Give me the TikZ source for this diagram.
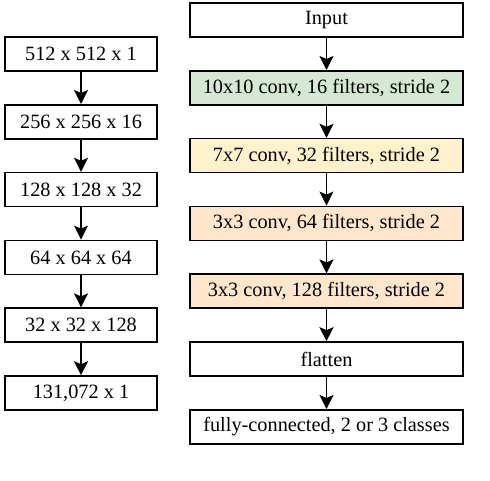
\documentclass[tikz,border=0pt]{standalone}
\usepackage{fontspec}
\setmainfont{Liberation Serif}
\usetikzlibrary{arrows.meta}
\definecolor{cgreen}{HTML}{D5E8D4}
\definecolor{cyellow}{HTML}{FFF2CC}
\definecolor{corange}{HTML}{FFE6CC}
\begin{document}
\begin{tikzpicture}[x=1pt,y=-1pt,
  box/.style={draw=black, line width=1.6pt, fill=white, rectangle, minimum height=34pt, inner sep=0pt, font=\fontsize{20.3}{24}\selectfont},
  lbox/.style={box, minimum width=152pt},
  rbox/.style={box, minimum width=273pt},
  conn/.style={line width=1.6pt, -{Stealth[length=14pt,width=14pt,inset=3pt]}}]
\useasboundingbox (0,0) rectangle (490,480);
% left column
\node[lbox] (l1) at (81,54) {512 x 512 x 1};
\node[lbox] (l2) at (81,121.8) {256 x 256 x 16};
\node[lbox] (l3) at (81,189.6) {128 x 128 x 32};
\node[lbox] (l4) at (81,257.4) {64 x 64 x 64};
\node[lbox] (l5) at (81,325.2) {32 x 32 x 128};
\node[lbox] (l6) at (81,393) {131,072 x 1};
% right column
\node[rbox] (r1) at (326.5,20) {Input};
\node[rbox, fill=cgreen] (r2) at (326.5,87.8) {10x10 conv, 16 filters, stride 2};
\node[rbox, fill=cyellow] (r3) at (326.5,155.6) {7x7 conv, 32 filters, stride 2};
\node[rbox, fill=corange] (r4) at (326.5,223.4) {3x3 conv, 64 filters, stride 2};
\node[rbox, fill=corange] (r5) at (326.5,291.2) {3x3 conv, 128 filters, stride 2};
\node[rbox] (r6) at (326.5,359) {flatten};
\node[rbox] (r7) at (326.5,426.8) {fully-connected, 2 or 3 classes};
\foreach \a/\b in {l1/l2,l2/l3,l3/l4,l4/l5,l5/l6,r1/r2,r2/r3,r3/r4,r4/r5,r5/r6,r6/r7}
  \draw[conn] (\a.south) -- (\b.north);
\end{tikzpicture}
\end{document}
